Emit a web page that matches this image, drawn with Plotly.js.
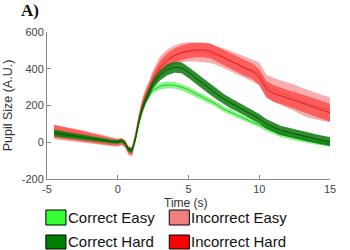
<!DOCTYPE html>
<html>
<head>
<meta charset="utf-8">
<script src="https://cdn.plot.ly/plotly-3.0.1.min.js"></script>
<style>html,body{margin:0;padding:0;background:#fff;}#chart{width:350px;height:250px;}</style>
</head>
<body>
<div id="chart"></div>
<script>
// Time (s)
var time = [-4.5,-4,-3.5,-3,-2.5,-2,-1.5,-1,-0.5,0,
  0.25,0.5,0.75,1,1.25,1.5,1.75,2,2.25,
  2.5,3,3.5,4,4.5,5,5.5,6,6.5,7,7.5,8,8.5,9,9.5,10,10.5,11,11.5,12,12.5,13,13.5,14,14.5,15];

// Correct Easy
var correctEasy = [45,42,36,32,26,22,15,10,5,3,
  6,-5,-35,-40,15,105,175,225,260,
  285,305,312,310,300,285,265,245,225,205,180,162,145,128,110,95,75,58,42,32,22,15,8,0,-5,-10];
var correctEasyErr = [12,12,12,11,11,10,10,9,9,8,
  8,9,10,12,14,16,16,16,16,
  17,18,18,18,17,17,16,16,16,15,15,15,14,14,14,14,14,14,13,13,13,13,13,13,13,13];

// Correct Hard
var correctHard = [50,44,38,33,28,22,16,10,5,2,
  8,-3,-38,-45,20,115,185,235,275,
  320,365,395,408,405,380,350,318,290,262,235,212,192,170,150,128,100,82,65,55,45,37,28,18,10,3];
var correctHardErr = [18,17,16,15,14,13,12,11,10,10,
  10,11,12,14,16,18,20,22,24,
  26,28,30,30,30,30,30,30,30,29,28,28,27,27,26,26,26,25,25,25,25,25,25,25,25,25];

// Incorrect Easy
var incorrectEasy = [55,50,45,38,32,25,18,12,4,-2,
  5,-8,-45,-55,30,130,205,260,300,
  350,420,455,475,488,492,492,490,485,472,458,442,425,408,392,372,305,285,270,256,242,222,208,196,186,177];
var incorrectEasyErr = [38,37,36,35,34,32,30,28,25,22,
  20,20,22,25,30,35,38,40,42,
  45,48,50,52,52,52,52,52,52,52,54,55,56,58,60,62,64,66,68,70,72,74,74,72,70,68];

// Incorrect Hard
var incorrectHard = [60,52,46,40,33,26,18,10,3,-3,
  4,-6,-42,-50,25,125,200,255,295,
  340,405,445,470,487,497,502,502,497,480,462,442,422,402,387,355,290,267,252,240,228,214,200,188,175,160];
var incorrectHardErr = [35,33,32,30,28,26,24,22,20,18,
  18,18,20,22,25,28,30,32,34,
  36,38,40,40,40,40,40,40,40,40,40,42,42,42,42,44,44,45,45,45,46,46,47,47,48,48];

var legendLabels = ["Correct Easy", "Incorrect Easy", "Correct Hard", "Incorrect Hard"];
var xTitle = "Time (s)";
var yTitle = "Pupil Size (A.U.)";
var xTicks = [-5, 0, 5, 10, 15];
var yTicks = [-200, 0, 200, 400, 600];

function bandTraces(mean, err, fillColor, lineColor, name) {
  var upper = mean.map(function (v, i) { return v + err[i]; });
  var lower = mean.map(function (v, i) { return v - err[i]; });
  var bx = time.concat(time.slice().reverse());
  var by = upper.concat(lower.slice().reverse());
  return [
    {x: bx, y: by, type: 'scatter', mode: 'lines', fill: 'toself', fillcolor: fillColor,
     line: {width: 0, color: fillColor}, hoverinfo: 'skip', showlegend: false, name: name + ' CI'},
    {x: time, y: mean, type: 'scatter', mode: 'lines', line: {width: 1, color: lineColor},
     showlegend: false, name: name}
  ];
}

var data = []
  .concat(bandTraces(incorrectEasy, incorrectEasyErr, 'rgba(240,120,120,0.6)', 'rgba(235,90,90,0.8)', legendLabels[1]))
  .concat(bandTraces(incorrectHard, incorrectHardErr, 'rgba(255,50,50,0.65)', '#e02020', legendLabels[3]))
  .concat(bandTraces(correctEasy, correctEasyErr, 'rgba(60,235,60,0.6)', '#22d022', legendLabels[0]))
  .concat(bandTraces(correctHard, correctHardErr, 'rgba(10,120,10,0.85)', '#005800', legendLabels[2]));

// manual legend (2 x 2)
var swatchColors = ['#33ff33', '#f08080', '#007f00', '#ff0000'];
var colX = [-0.004, 0.432];
var rowY = [[-0.211, -0.313], [-0.381, -0.476]];
var shapes = [], annotations = [];
for (var i = 0; i < legendLabels.length; i++) {
  var c = i % 2, r = Math.floor(i / 2);
  shapes.push({type: 'rect', xref: 'paper', yref: 'paper',
    x0: colX[c], x1: colX[c] + 0.071, y0: rowY[r][1], y1: rowY[r][0],
    fillcolor: swatchColors[i], line: {color: '#000', width: 1}});
  annotations.push({xref: 'paper', yref: 'paper', x: colX[c] + 0.073, y: (rowY[r][0] + rowY[r][1]) / 2,
    xanchor: 'left', yanchor: 'middle', showarrow: false, text: legendLabels[i], borderpad: 0,
    font: {family: 'Liberation Sans, Arial, sans-serif', size: 15, color: '#111'}});
}
// x-axis title placed as in the reference (just under the tick labels)
annotations.push({xref: 'paper', yref: 'paper', x: 0.49, y: -0.163, xanchor: 'center', yanchor: 'middle',
  showarrow: false, text: xTitle, borderpad: 0,
  font: {family: 'Liberation Sans, Arial, sans-serif', size: 12, color: '#333'}});

var layout = {
  width: 350, height: 250,
  margin: {l: 47, r: 20, t: 32, b: 71},
  paper_bgcolor: '#fff', plot_bgcolor: '#fff',
  font: {family: 'Liberation Sans, Arial, sans-serif', size: 11, color: '#444'},
  title: {text: '<b>A)</b>', x: 21 / 350, xanchor: 'left', xref: 'container',
          y: 1 - 10 / 250, yanchor: 'middle', yref: 'container',
          font: {family: 'Liberation Serif, Times New Roman, serif', size: 17, color: '#111'}},
  showlegend: false,
  xaxis: {range: [-5, 15], tickvals: xTicks, ticktext: xTicks.map(String),
          showline: true, linecolor: '#888', linewidth: 1, ticks: 'inside', ticklen: 4, tickcolor: '#888',
          showgrid: false, zeroline: false, tickfont: {size: 11, color: '#444'}},
  yaxis: {range: [-200, 600], tickvals: yTicks, ticktext: yTicks.map(String),
          showline: true, linecolor: '#888', linewidth: 1, ticks: 'inside', ticklen: 4, tickcolor: '#888',
          showgrid: false, zeroline: false, tickfont: {size: 11, color: '#444'},
          title: {text: yTitle, font: {size: 12.5, color: '#333'}, standoff: 6}},
  shapes: shapes,
  annotations: annotations
};

Plotly.newPlot('chart', data, layout, {staticPlot: true, displayModeBar: false});
</script>
</body>
</html>
